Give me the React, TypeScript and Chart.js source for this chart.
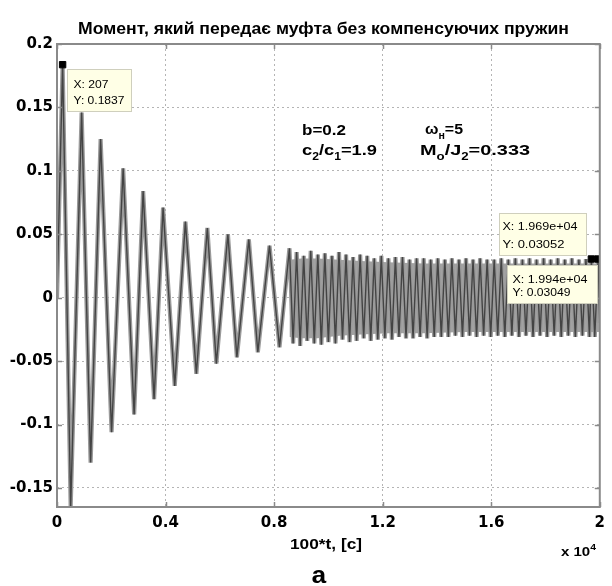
import React, { useEffect, useRef } from 'react';
import { Chart, registerables } from 'chart.js';

Chart.register(...registerables);

// ---------- text ----------
const TITLE = 'Момент, який передає муфта без компенсуючих пружин';
const X_LABEL = '100*t, [c]';
const FIG_LABEL = 'a';

// ---------- axes ----------
const X_MIN = 0;
const X_MAX = 20000;
const Y_MIN = -0.165;
const Y_MAX = 0.2;
const X_TICKS = [0, 4000, 8000, 12000, 16000, 20000];
const Y_TICKS = [-0.15, -0.1, -0.05, 0, 0.05, 0.1, 0.15, 0.2];

// ---------- signal (extrema) ----------
const T = [
  0, 207, 504, 908, 1239, 1607, 2011, 2437, 2842, 3173, 3577, 3908, 4338, 4731,
  5135, 5540, 5871, 6297, 6628, 7069, 7400, 7830, 8198, 8566,
  8700, 8830, 8960, 9090, 9220, 9350, 9480, 9610, 9740, 9870, 10000, 10130,
  10260, 10390, 10520, 10650, 10780, 10910, 11040, 11170, 11300, 11430, 11560,
  11690, 11820, 11950, 12080, 12210, 12340, 12470, 12600, 12730, 12860, 12990,
  13120, 13250, 13380, 13510, 13640, 13770, 13900, 14030, 14160, 14290, 14420,
  14550, 14680, 14810, 14940, 15070, 15200, 15330, 15460, 15590, 15720, 15850,
  15980, 16110, 16240, 16370, 16500, 16630, 16760, 16890, 17020, 17150, 17280,
  17410, 17540, 17670, 17800, 17930, 18060, 18190, 18320, 18450, 18580, 18710,
  18840, 18970, 19100, 19230, 19360, 19490, 19620, 19690, 19815, 19940, 20000,
];
const M = [
  0, 0.1837, -0.165, 0.146, -0.13, 0.125, -0.106, 0.102, -0.092, 0.084, -0.08,
  0.071, -0.0695, 0.06, -0.06, 0.055, -0.052, 0.05, -0.047, 0.046, -0.043, 0.041,
  -0.039, 0.039,
  -0.036, 0.036, -0.038, 0.033, -0.034, 0.037, -0.036, 0.034, -0.037, 0.035,
  -0.035, 0.033, -0.036, 0.036, -0.033, 0.034, -0.035, 0.032, -0.034, 0.034,
  -0.032, 0.033, -0.034, 0.031, -0.033, 0.033, -0.032, 0.031, -0.033, 0.032,
  -0.031, 0.032, -0.032, 0.03, -0.032, 0.031, -0.031, 0.031, -0.032, 0.03,
  -0.031, 0.031, -0.031, 0.03, -0.031, 0.031, -0.03, 0.03, -0.031, 0.031,
  -0.03, 0.03, -0.031, 0.031, -0.03, 0.03, -0.031, 0.03, -0.03, 0.031, -0.031,
  0.03, -0.03, 0.031, -0.031, 0.03, -0.03, 0.031, -0.031, 0.03, -0.03, 0.031,
  -0.031, 0.03, -0.03, 0.031, -0.031, 0.03, -0.03, 0.031, -0.031, 0.03, -0.03,
  0.0305, -0.031, 0.03052, -0.031, 0.03049, -0.02,
];

// dense band of the fast oscillation (inner envelope)
const BAND_T = [8566, 9000, 9600, 10400, 11200, 12200, 13500, 15000, 20000];
const BAND_HI = [0.03, 0.031, 0.031, 0.03, 0.029, 0.028, 0.027, 0.027, 0.027];
const BAND_LO = [-0.031, -0.032, -0.032, -0.03, -0.029, -0.028, -0.028, -0.027, -0.027];

// ---------- data tips ----------
const TIP_T = [207, 19690, 19940];
const TIP_M = [0.1837, 0.03052, 0.03049];
const TIP_LINES = [
  ['X: 207', 'Y: 0.1837'],
  ['X: 1.969e+04', 'Y: 0.03052'],
  ['X: 1.994e+04', 'Y: 0.03049'],
];

// ---------- styles ----------
const FRAME = '#8a8a8a';
const GRID = '#b4b4b4';
const LIGHT = '#9a9a9a';
const DARK = '#444444';
const BAND = '#a2a2a2';
const TICK_FONT = { family: 'DejaVu Sans', weight: 'bold' as const, size: 15 };

function fitText(ctx: CanvasRenderingContext2D, text: string, left: number, base: number, w: number, font: string) {
  ctx.font = font;
  const m = ctx.measureText(text).width;
  ctx.save();
  ctx.translate(left, base);
  ctx.scale(w / m, 1);
  ctx.textAlign = 'left';
  ctx.textBaseline = 'alphabetic';
  ctx.fillText(text, 0, 0);
  ctx.restore();
}

type Part = { t: string; sub?: boolean; sup?: boolean };
function richText(ctx: CanvasRenderingContext2D, parts: Part[], left: number, base: number, w: number, size: number, family: string) {
  const fontFor = (p: Part) => `bold ${p.sub || p.sup ? Math.round(size * 0.68) : size}px ${family}`;
  let total = 0;
  for (const p of parts) {
    ctx.font = fontFor(p);
    total += ctx.measureText(p.t).width;
  }
  ctx.save();
  ctx.translate(left, base);
  ctx.scale(w / total, 1);
  ctx.textAlign = 'left';
  ctx.textBaseline = 'alphabetic';
  let cx = 0;
  for (const p of parts) {
    ctx.font = fontFor(p);
    const dy = p.sub ? size * 0.35 : p.sup ? -size * 0.45 : 0;
    ctx.fillText(p.t, cx, dy);
    cx += ctx.measureText(p.t).width;
  }
  ctx.restore();
}

const TIP_LAYOUT = [
  { dx: 4, dy: 4, w: 64, h: 42, l: [{ x: 6, b: 18, w: 35 }, { x: 6, b: 34, w: 51 }] },
  { dx: -92, dy: -46, w: 87, h: 42, l: [{ x: 3, b: 16, w: 75 }, { x: 3, b: 34, w: 62 }] },
  { dx: -91, dy: 6, w: 90, h: 38, l: [{ x: 5, b: 17, w: 75 }, { x: 5, b: 30, w: 58 }] },
];

const overlay = {
  id: 'overlay',
  afterDraw(chart: any) {
    const { ctx, chartArea: a, scales } = chart;
    const xs = scales.x;
    const ys = scales.y;
    ctx.save();

    // frame
    ctx.strokeStyle = FRAME;
    ctx.lineWidth = 2;
    ctx.strokeRect(a.left, a.top, a.right - a.left, a.bottom - a.top);
    // inward ticks
    ctx.lineWidth = 1.5;
    ctx.beginPath();
    for (const v of X_TICKS) {
      const px = Math.round(xs.getPixelForValue(v)) + 0.5;
      ctx.moveTo(px, a.bottom); ctx.lineTo(px, a.bottom - 5);
      ctx.moveTo(px, a.top); ctx.lineTo(px, a.top + 5);
    }
    for (const v of Y_TICKS) {
      const py = Math.round(ys.getPixelForValue(v)) + 0.5;
      ctx.moveTo(a.left, py); ctx.lineTo(a.left + 5, py);
      ctx.moveTo(a.right, py); ctx.lineTo(a.right - 5, py);
    }
    ctx.stroke();

    ctx.fillStyle = '#000';
    // title
    fitText(ctx, TITLE, 78, 34, 491, 'bold 16px "Liberation Sans"');
    // x label
    fitText(ctx, X_LABEL, 290, 549, 72, 'bold 14px "Liberation Sans"');
    // x 10^4
    richText(ctx, [{ t: 'x 10' }, { t: '4', sup: true }], 561, 556, 35, 13, '"Liberation Sans"');
    // figure label
    fitText(ctx, FIG_LABEL, 311, 583, 16, 'bold 24px "Liberation Mono"');

    // parameters
    richText(ctx, [{ t: 'b=0.2' }], 302, 135, 44, 15, '"Liberation Sans"');
    richText(ctx, [{ t: 'c' }, { t: '2', sub: true }, { t: '/c' }, { t: '1', sub: true }, { t: '=1.9' }], 302, 155, 75, 15, '"Liberation Sans"');
    richText(ctx, [{ t: 'ω' }, { t: 'н', sub: true }, { t: '=5' }], 425, 134, 38, 15, '"Liberation Sans"');
    richText(ctx, [{ t: 'M' }, { t: 'o', sub: true }, { t: '/J' }, { t: '2', sub: true }, { t: '=0.333' }], 420, 155, 110, 15, '"Liberation Sans"');

    // data tips
    for (let i = 0; i < TIP_T.length; i++) {
      const px = xs.getPixelForValue(TIP_T[i]);
      const py = ys.getPixelForValue(TIP_M[i]);
      const L = TIP_LAYOUT[i];
      const bx = Math.round(px + L.dx) + 0.5;
      const by = Math.round(py + L.dy) + 0.5;
      ctx.fillStyle = '#ffffe6';
      ctx.fillRect(bx, by, L.w, L.h);
      ctx.strokeStyle = '#cfcfbd';
      ctx.lineWidth = 1;
      ctx.strokeRect(bx, by, L.w, L.h);
      ctx.fillStyle = '#000';
      for (let k = 0; k < 2; k++) {
        fitText(ctx, TIP_LINES[i][k], bx + L.l[k].x, by + L.l[k].b, L.l[k].w, '11px "Liberation Sans"');
      }
    }
    ctx.restore();
  },
};

export default function App() {
  const ref = useRef<HTMLCanvasElement | null>(null);
  useEffect(() => {
    if (!ref.current) return;
    const signal = T.map((t, i) => ({ x: t, y: M[i] }));
    const tips = TIP_T.map((t, i) => ({ x: t, y: TIP_M[i] }));
    const bandHi = BAND_T.map((t, i) => ({ x: t, y: BAND_HI[i] }));
    const bandLo = BAND_T.map((t, i) => ({ x: t, y: BAND_LO[i] }));
    const chart = new Chart(ref.current, {
      type: 'line',
      data: {
        datasets: [
          {
            data: tips,
            showLine: false,
            pointStyle: 'rect',
            pointRadius: 4.5,
            pointBackgroundColor: '#000',
            pointBorderColor: '#000',
            order: 0,
          } as any,
          {
            data: signal,
            borderColor: DARK,
            borderWidth: 1.4,
            pointRadius: 0,
            tension: 0,
            borderJoinStyle: 'bevel',
            order: 1,
          },
          {
            data: signal,
            borderColor: LIGHT,
            borderWidth: 4.2,
            pointRadius: 0,
            tension: 0,
            borderJoinStyle: 'bevel',
            order: 2,
          },
          {
            data: bandHi,
            borderWidth: 0,
            pointRadius: 0,
            backgroundColor: BAND,
            fill: '+1',
            order: 3,
          },
          {
            data: bandLo,
            borderWidth: 0,
            pointRadius: 0,
            backgroundColor: BAND,
            fill: false,
            order: 4,
          },
        ],
      },
      options: {
        animation: false,
        responsive: false,
        devicePixelRatio: 1,
        layout: { padding: { left: 0, top: 44, right: 12, bottom: 49 } },
        plugins: {
          legend: { display: false },
          tooltip: { enabled: false },
          title: { display: false },
        },
        scales: {
          x: {
            type: 'linear',
            min: X_MIN,
            max: X_MAX,
            afterBuildTicks: (s: any) => { s.ticks = X_TICKS.map((v) => ({ value: v })); },
            afterFit: (s: any) => { s.height = 30; },
            ticks: {
              callback: (v: any) => String(Number(v) / 10000),
              font: TICK_FONT,
              color: '#000',
              padding: 7,
              maxRotation: 0,
              autoSkip: false,
            },
            grid: { color: GRID, lineWidth: 1, drawTicks: false },
            border: { display: false, dash: [2, 3] },
          },
          y: {
            type: 'linear',
            min: Y_MIN,
            max: Y_MAX,
            afterBuildTicks: (s: any) => { s.ticks = Y_TICKS.map((v) => ({ value: v })); },
            afterFit: (s: any) => { s.width = 57; },
            ticks: {
              callback: (v: any) => String(v),
              font: TICK_FONT,
              color: '#000',
              padding: 4,
              autoSkip: false,
            },
            grid: { color: GRID, lineWidth: 1, drawTicks: false },
            border: { display: false, dash: [2, 3] },
          },
        },
      },
      plugins: [overlay],
    });
    return () => chart.destroy();
  }, []);
  return (
    <div style={{ position: 'absolute', left: 0, top: 0, width: 612, height: 586, background: '#fff' }}>
      <canvas ref={ref} width={612} height={586} style={{ display: 'block' }} />
    </div>
  );
}
